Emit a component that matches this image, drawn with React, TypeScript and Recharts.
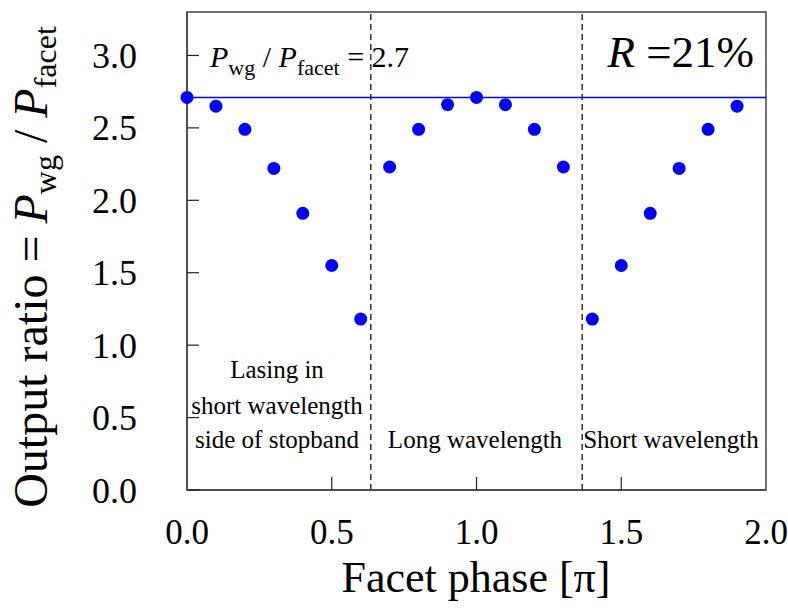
import { ScatterChart, Scatter, XAxis, YAxis, ReferenceLine, ReferenceArea } from 'recharts';

// facet phase in units of pi
const phase = [0, 0.1, 0.2, 0.3, 0.4, 0.5, 0.6, 0.7, 0.8, 0.9, 1.0, 1.1, 1.2, 1.3, 1.4, 1.5, 1.6, 1.7, 1.8, 1.9];
// output ratio P_wg / P_facet
const ratio = [2.71, 2.65, 2.49, 2.22, 1.91, 1.55, 1.18, 2.23, 2.49, 2.66, 2.71, 2.66, 2.49, 2.23, 1.18, 1.55, 1.91, 2.22, 2.49, 2.65];

const xTicks = [0, 0.5, 1.0, 1.5, 2.0];
const yTicks = [0, 0.5, 1.0, 1.5, 2.0, 2.5, 3.0];
const regionBounds = [0.635, 1.365];
const meanRatio = 2.71;

const data = phase.map((p, i) => ({ phase: p, ratio: ratio[i] }));

const FONT = '"Liberation Serif", "Times New Roman", serif';
const BLUE = '#0000ff';

const Dot = (props: any) => <circle cx={props.cx} cy={props.cy} r={6.5} fill={BLUE} />;

// inward tick marks, labels outside
const XTick = (props: any) => {
    const { x, y, payload } = props;
    const inner = payload.value > 0 && payload.value < 2;
    return (
        <g>
            {inner && <line x1={x} x2={x} y1={y} y2={y - 13} stroke="#222" strokeWidth={1.2} />}
            <text x={x} y={y + 54} textAnchor="middle" fontSize={35} style={{ fontFamily: FONT }} fill="#000">
                {payload.value.toFixed(1)}
            </text>
        </g>
    );
};

const YTick = (props: any) => {
    const { x, y, payload } = props;
    return (
        <g>
            <line x1={x} x2={x + 12} y1={y} y2={y} stroke="#222" strokeWidth={1.2} />
            <text x={x - 50} y={y} dy="0.35em" textAnchor="end" fontSize={36} style={{ fontFamily: FONT }} fill="#000">
                {payload.value.toFixed(1)}
            </text>
        </g>
    );
};

export default function App() {
    return (
        <div style={{ position: 'absolute', left: 0, top: 0, width: 788, height: 612, background: '#fff', fontFamily: FONT }}>
            <ScatterChart width={788} height={612} margin={{ top: 12, right: 22, bottom: 62, left: 127 }}>
                <XAxis
                    type="number"
                    dataKey="phase"
                    domain={[0, 2]}
                    ticks={xTicks}
                    height={60}
                    tickSize={0}
                    tickMargin={0}
                    interval={0}
                    tick={<XTick />}
                    tickLine={false}
                    axisLine={{ stroke: '#444', strokeWidth: 1.5 }}
                />
                <YAxis
                    type="number"
                    dataKey="ratio"
                    domain={[0, 3.3]}
                    ticks={yTicks}
                    width={60}
                    tickSize={0}
                    tickMargin={0}
                    interval={0}
                    tick={<YTick />}
                    tickLine={false}
                    axisLine={{ stroke: '#444', strokeWidth: 1.5 }}
                />
                <ReferenceArea x1={0} x2={2} y1={0} y2={3.3} fill="none" fillOpacity={0} stroke="#444" strokeWidth={1.5} />
                {regionBounds.map((b) => (
                    <ReferenceLine key={b} x={b} stroke="#000" strokeWidth={1.2} strokeDasharray="6 4" />
                ))}
                <ReferenceLine y={meanRatio} stroke={BLUE} strokeWidth={1.5} />
                <Scatter data={data} shape={Dot} isAnimationActive={false} />
            </ScatterChart>

            {/* text annotations */}
            <svg width={788} height={612} style={{ position: 'absolute', left: 0, top: 0, pointerEvents: 'none' }} fontFamily={FONT}>
                <text x={210} y={67} fontSize={30} fill="#000">
                    <tspan fontStyle="italic">P</tspan>
                    <tspan dy={8} fontSize={22}>wg</tspan>
                    <tspan dy={-8}> / </tspan>
                    <tspan fontStyle="italic">P</tspan>
                    <tspan dy={8} fontSize={22}>facet</tspan>
                    <tspan dy={-8}> = 2.7</tspan>
                </text>
                <text x={754} y={67} fontSize={45} textAnchor="end" fill="#000">
                    <tspan fontStyle="italic">R</tspan> =21%
                </text>

                <text x={277} y={378} fontSize={25} textAnchor="middle">Lasing in</text>
                <text x={277} y={414} fontSize={25} textAnchor="middle">short wavelength</text>
                <text x={277} y={448} fontSize={25} textAnchor="middle">side of stopband</text>
                <text x={475} y={448} fontSize={25} textAnchor="middle">Long wavelength</text>
                <text x={671} y={448} fontSize={25} textAnchor="middle">Short wavelength</text>

                <text x={476} y={592} fontSize={44} textAnchor="middle">Facet phase [π]</text>
                <text transform="translate(47,267) rotate(-90)" fontSize={48} textAnchor="middle">
                    Output ratio =
                    <tspan fontStyle="italic"> P</tspan>
                    <tspan dy={9} fontSize={32}>wg</tspan>
                    <tspan dy={-9}> / </tspan>
                    <tspan fontStyle="italic">P</tspan>
                    <tspan dy={9} fontSize={32}>facet</tspan>
                </text>
            </svg>
        </div>
    );
}
